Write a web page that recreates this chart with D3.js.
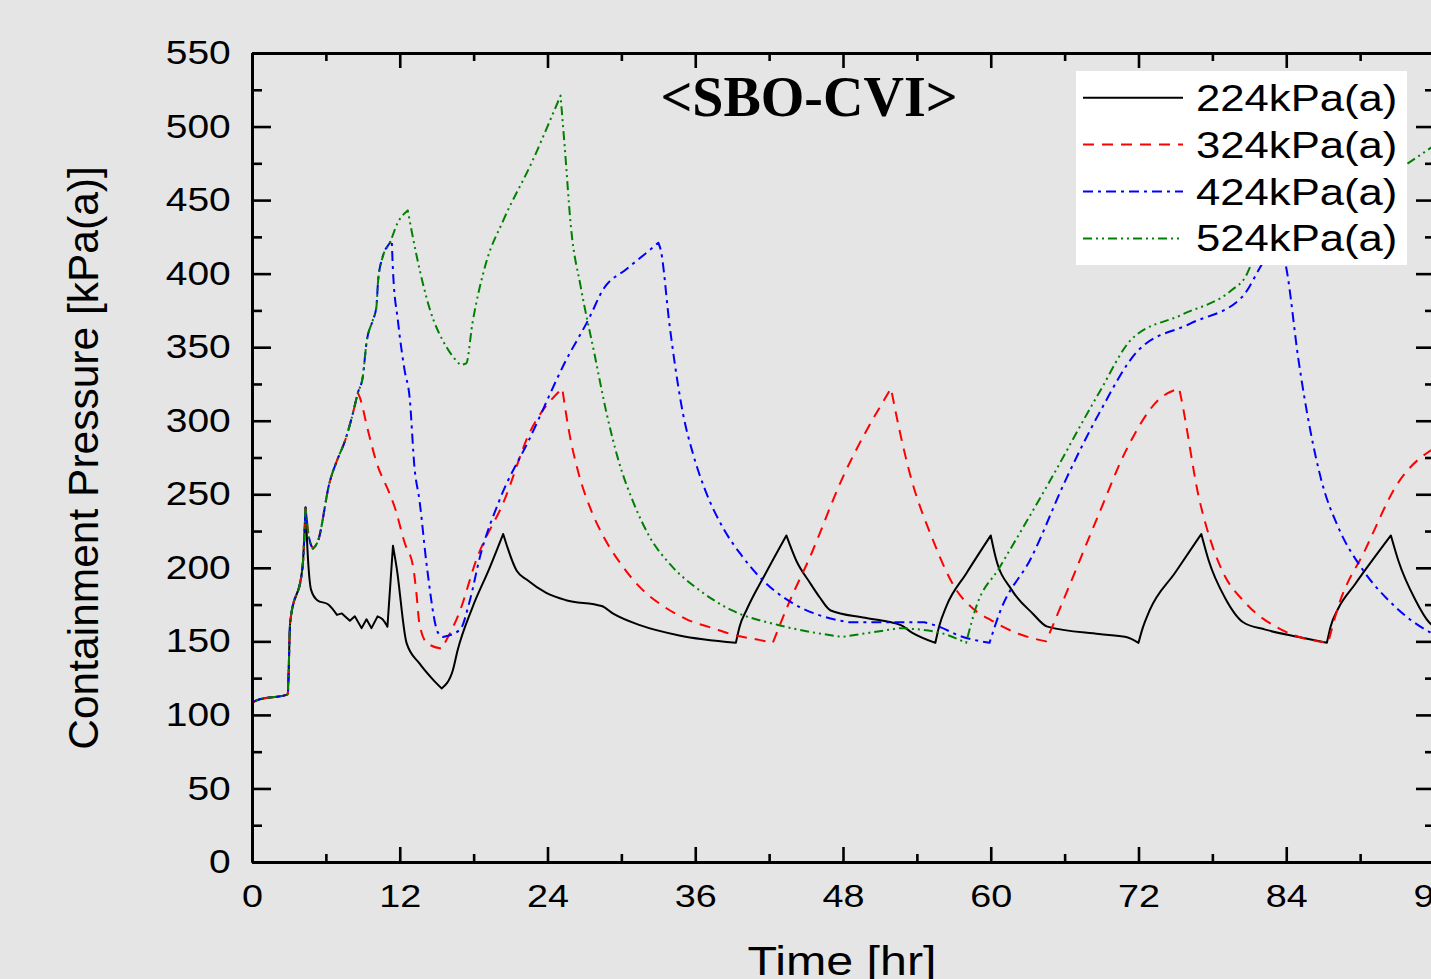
<!DOCTYPE html>
<html>
<head>
<meta charset="utf-8">
<script src="https://cdn.jsdelivr.net/npm/d3@7"></script>
<style>
  html, body { margin: 0; padding: 0; background: #e5e5e5; overflow: hidden; }
  svg { display: block; }
</style>
</head>
<body>
<svg id="chart"></svg>
<script>
// ---- data ----
const seriesNames = ["224kPa(a)", "324kPa(a)", "424kPa(a)", "524kPa(a)"];
const seriesColors = ["#000000", "#ff0000", "#0000ff", "#008000"];
const seriesDash = [null, "11,8", "10,5,3,5", "9,4,2,4,2,4"];

const xTicks = [0, 12, 24, 36, 48, 60, 72, 84, 96];
const xMinor = [6, 18, 30, 42, 54, 66, 78, 90];
const yTicks = [0, 50, 100, 150, 200, 250, 300, 350, 400, 450, 500, 550];
const yMinor = [25, 75, 125, 175, 225, 275, 325, 375, 425, 475, 525];

// shared start of all four runs
const startAll = [[0, 0], [0.05, 108], [0.4, 110], [2.9, 114], [3.1, 163], [4.1, 200], [4.35, 241]];
// shared part of the three higher set points
const startHigh = [[4.6, 222], [4.95, 213], [5.35, 218], [6.3, 258], [7.0, 275], [7.5, 285], [8.1, 302], [8.6, 319]];
const startUpper = [[9.0, 330], [9.3, 353], [9.8, 368], [10.1, 377], [10.25, 396], [10.6, 411], [11.2, 421]];

const p224 = [[4.5, 213], [4.8, 185], [5.3, 178], [6.2, 175], [6.9, 168], [7.3, 169], [7.95, 164], [8.35, 167],
  [8.9, 159], [9.3, 165], [9.7, 159], [10.2, 167], [10.6, 165], [11.0, 160], [11.45, 215], [11.75, 200],
  [12.55, 149], [13.6, 135], [14.7, 124], [15.4, 118], [16.3, 130], [16.7, 144], [17.9, 173], [19.3, 200],
  [20.4, 223], [21.5, 198], [22.3, 192], [23.9, 183], [25.5, 178], [28.4, 174], [29.3, 169], [31.5, 161],
  [34.7, 154], [39.3, 149], [39.6, 160], [40.2, 172], [41.7, 196], [43.4, 222], [44.2, 205], [45.3, 190],
  [46.1, 180], [47.0, 171], [49.8, 166], [52.7, 161], [53.6, 156], [55.5, 149], [55.8, 160], [56.4, 174],
  [58.0, 196], [60.0, 222], [60.4, 207], [61.7, 185], [63.4, 169], [64.6, 160], [68.8, 155], [71.0, 153],
  [72.0, 149], [72.3, 158], [72.9, 171], [75.0, 197], [77.1, 223], [77.7, 205], [79.0, 180], [80.5, 163],
  [82.3, 158], [85.0, 153], [87.3, 149], [87.6, 160], [88.2, 172], [89.6, 189], [92.5, 222], [93.1, 205],
  [94.5, 178], [95.6, 163], [96, 160]];

const p324 = [[8.75, 316], [9.4, 294], [10.1, 272], [11.2, 250], [11.6, 241], [12.4, 217], [13.1, 200],
  [13.35, 183], [13.6, 162], [14.2, 149], [15.4, 145], [16.9, 171], [18.2, 205], [20.5, 246], [22.5, 291],
  [25.2, 322], [25.7, 295], [26.5, 265], [27.5, 240], [28.5, 222], [30.1, 201], [31.6, 186], [33.4, 174],
  [35.3, 165], [37.4, 159], [39.3, 154], [41.2, 151], [42.3, 149], [43.6, 176], [45.3, 207], [47.9, 260],
  [51.9, 322], [52.3, 305], [53.4, 265], [55.3, 219], [57.2, 185], [58.6, 172], [60.1, 164], [62.3, 155],
  [64.5, 150], [66.0, 180], [68.8, 237], [71.0, 280], [73.6, 314], [75.3, 322], [75.5, 314], [76.9, 248],
  [77.8, 220], [78.8, 198], [80.7, 176], [83.6, 158], [87.4, 149], [88.2, 173], [90.4, 212], [93.1, 258],
  [95.6, 279], [96, 281]];

const p424 = [[11.35, 423], [11.45, 402], [11.85, 368], [12.4, 334], [12.8, 316], [13.2, 268], [13.6, 246],
  [14.2, 201], [15.1, 156], [15.5, 153], [16.9, 158], [17.7, 178], [18.5, 207], [20.1, 246], [22.5, 287],
  [25.5, 341], [27.4, 370], [28.5, 389], [30.4, 403], [32.3, 416], [33.0, 421], [33.2, 416], [33.9, 366],
  [34.3, 341], [35.0, 305], [35.8, 278], [36.8, 253], [38.2, 228], [39.8, 208], [41.2, 194], [43.9, 176],
  [46.0, 168], [48.5, 163], [54.6, 163], [55.8, 160], [57.4, 154], [59.9, 149], [60.7, 169], [63.3, 207],
  [66.1, 260], [68.8, 305], [72.0, 348], [76.2, 366], [80.4, 384], [82.0, 406], [83.3, 424], [84.0, 404],
  [85.0, 341], [86.9, 258], [88.2, 228], [90.1, 200], [92.3, 178], [95.3, 158], [96, 155]];

const p524 = [[11.8, 434], [12.65, 443], [13.4, 411], [14.4, 377], [15.8, 350], [16.9, 338], [17.4, 339],
  [17.9, 366], [19.0, 407], [20.4, 436], [22.8, 477], [24.2, 504], [25.06, 521], [25.4, 486], [25.9, 432],
  [26.7, 391], [27.8, 346], [28.8, 305], [29.8, 272], [31.0, 244], [32.3, 221], [34.0, 202], [36.3, 185],
  [39.0, 171], [42.8, 161], [47.9, 153], [52.6, 159], [55.8, 156], [58.0, 149], [58.8, 173], [60.7, 200],
  [64.6, 256], [68.8, 319], [71.5, 356], [75.5, 372], [79.6, 389], [80.7, 398], [81.2, 407], [83.0, 422],
  [93.7, 474], [96, 487]];

const seriesData = [
  startAll.concat(p224),
  startAll.concat(startHigh, p324),
  startAll.concat(startHigh, startUpper, p424),
  startAll.concat(startHigh, startUpper, p524)
];

// ---- layout ----
const W = 1431, H = 979;
const svg = d3.select("#chart").attr("width", W).attr("height", H);
const FONT = "'Liberation Sans', Arial, sans-serif";
const STRETCH = "scale(1.18,1)";

const x = d3.scaleLinear().domain([0, 96]).range([252, 1434]);
const y = d3.scaleLinear().domain([0, 550]).range([862, 53]);

// smooth between turning points, but keep peaks and valleys sharp
const segLine = d3.line()
  .x(d => x(d[0]))
  .y(d => y(d[1]))
  .curve(d3.curveMonotoneX);

function sharpSmooth(pts) {
  const segs = [];
  let cur = [pts[0]];
  for (let i = 1; i < pts.length; i++) {
    cur.push(pts[i]);
    if (i < pts.length - 1 &&
        (pts[i][1] - pts[i - 1][1]) * (pts[i + 1][1] - pts[i][1]) <= 0) {
      segs.push(cur);
      cur = [pts[i]];
    }
  }
  segs.push(cur);
  return segs.map((s, k) => {
    const d = segLine(s);
    return k === 0 ? d : d.replace(/^M[^LC]*/, "");
  }).join("");
}

svg.append("g").selectAll("path")
  .data(seriesData)
  .join("path")
  .attr("d", sharpSmooth)
  .attr("fill", "none")
  .attr("stroke", (d, i) => seriesColors[i])
  .attr("stroke-width", 2)
  .attr("stroke-dasharray", (d, i) => seriesDash[i])
  .attr("stroke-linejoin", "round");

// axes
function styleAxis(g, fontSize) {
  g.select(".domain").attr("stroke", "#000").attr("stroke-width", 3);
  g.selectAll(".tick line").attr("stroke", "#000").attr("stroke-width", 2.6);
  g.selectAll(".tick text")
    .attr("fill", "#000")
    .style("font-family", FONT)
    .style("font-size", fontSize + "px")
    .attr("transform", STRETCH);
}

// bottom
svg.append("g").attr("transform", `translate(0,${y(0)})`)
  .call(d3.axisBottom(x).tickValues(xTicks).tickSizeInner(-15).tickSizeOuter(0).tickPadding(22).tickFormat(d3.format("d")))
  .call(g => styleAxis(g, 32));
svg.append("g").attr("transform", `translate(0,${y(0)})`)
  .call(d3.axisBottom(x).tickValues(xMinor).tickSizeInner(-8).tickSizeOuter(0).tickFormat(""))
  .call(g => styleAxis(g, 32));
// top
svg.append("g").attr("transform", `translate(0,${y(550)})`)
  .call(d3.axisTop(x).tickValues(xTicks).tickSizeInner(-15).tickSizeOuter(0).tickFormat(""))
  .call(g => styleAxis(g, 32));
svg.append("g").attr("transform", `translate(0,${y(550)})`)
  .call(d3.axisTop(x).tickValues(xMinor).tickSizeInner(-8).tickSizeOuter(0).tickFormat(""))
  .call(g => styleAxis(g, 32));
// left
svg.append("g").attr("transform", `translate(${x(0)},0)`)
  .call(d3.axisLeft(y).tickValues(yTicks).tickSizeInner(-19).tickSizeOuter(0).tickPadding(18).tickFormat(d3.format("d")))
  .call(g => styleAxis(g, 33));
svg.append("g").attr("transform", `translate(${x(0)},0)`)
  .call(d3.axisLeft(y).tickValues(yMinor).tickSizeInner(-10).tickSizeOuter(0).tickFormat(""))
  .call(g => styleAxis(g, 33));
// right
svg.append("g").attr("transform", `translate(${x(96)},0)`)
  .call(d3.axisRight(y).tickValues(yTicks).tickSizeInner(-18).tickSizeOuter(0).tickFormat(""))
  .call(g => styleAxis(g, 33));
svg.append("g").attr("transform", `translate(${x(96)},0)`)
  .call(d3.axisRight(y).tickValues(yMinor).tickSizeInner(-9).tickSizeOuter(0).tickFormat(""))
  .call(g => styleAxis(g, 33));

// axis titles
svg.append("text")
  .attr("transform", `translate(842,975) ${STRETCH}`)
  .attr("text-anchor", "middle")
  .style("font-family", FONT)
  .style("font-size", "41px")
  .text("Time [hr]");

svg.append("text")
  .attr("transform", "translate(98,458) rotate(-90)")
  .attr("text-anchor", "middle")
  .style("font-family", FONT)
  .style("font-size", "42.5px")
  .text("Containment Pressure [kPa(a)]");

// title
svg.append("text")
  .attr("x", 809)
  .attr("y", 116)
  .attr("text-anchor", "middle")
  .style("font-family", "'Liberation Serif', 'Times New Roman', serif")
  .style("font-weight", "bold")
  .style("font-size", "56px")
  .text("<SBO-CVI>");

// legend
const legend = svg.append("g");
legend.append("rect")
  .attr("x", 1076).attr("y", 71)
  .attr("width", 331).attr("height", 194)
  .attr("fill", "#ffffff");

const rowY = i => 97.7 + i * 46.9;
const rows = legend.selectAll("g.row")
  .data(seriesNames)
  .join("g")
  .attr("class", "row");
rows.append("line")
  .attr("x1", 1083).attr("x2", 1183)
  .attr("y1", (d, i) => rowY(i)).attr("y2", (d, i) => rowY(i))
  .attr("stroke", (d, i) => seriesColors[i])
  .attr("stroke-width", 2)
  .attr("stroke-dasharray", (d, i) => seriesDash[i]);
rows.append("text")
  .attr("transform", (d, i) => `translate(1196,${rowY(i) + 13}) ${STRETCH}`)
  .style("font-family", FONT)
  .style("font-size", "37px")
  .text(d => d);
</script>
</body>
</html>
